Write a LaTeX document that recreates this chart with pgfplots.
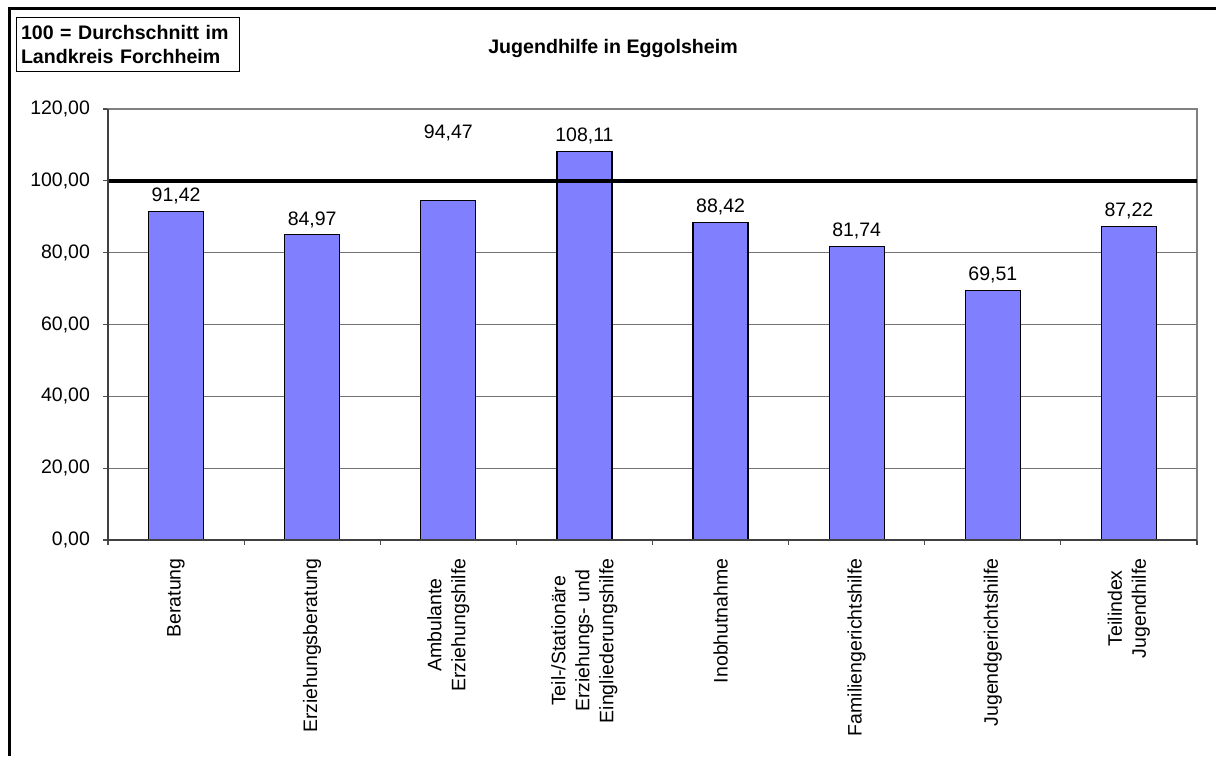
\documentclass[border=0pt]{standalone}
\usepackage{pgfplots}
\pgfplotsset{compat=1.18}
\usepackage{fontspec}
\setmainfont{Liberation Sans}
\definecolor{barblue}{HTML}{8080FF}
\begin{document}
\begin{tikzpicture}[x=1pt,y=1pt]
\useasboundingbox (0,0) rectangle (608,378);
\fill[white] (0,0) rectangle (608,378);
% outer frame (left and top only visible)
\draw[line width=1.5pt] (4.5,0) -- (4.5,373.5) -- (608,373.5);
% box
\node[draw=black, line width=0.5pt, anchor=north west, minimum width=111.5pt, minimum height=27pt,
      align=left, inner sep=2pt, text width=107pt, font=\fontsize{9.8}{11.6}\selectfont\bfseries]
  at (8,369.5) {100 = Durchschnitt im\\Landkreis Forchheim};
% title
\node[font=\fontsize{9.8}{11.6}\selectfont\bfseries] at (306.5,354) {Jugendhilfe in Eggolsheim};
\begin{axis}[
  at={(54pt,108pt)}, anchor=south west,
  scale only axis, width=544.5pt, height=215.5pt,
  xmin=-0.5, xmax=7.5, ymin=0, ymax=120,
  ytick={0,20,...,120},
  xtick={-0.5,0.5,...,7.5}, xticklabels={},
  extra x ticks={0,1,2,3,4,5,6,7},
  extra x tick labels={Beratung, Erziehungsberatung, {Ambulante\\Erziehungshilfe}, {Teil-/Stationäre\\Erziehungs- und\\Eingliederungshilfe}, Inobhutnahme, Familiengerichtshilfe, Jugendgerichtshilfe, {Teilindex\\Jugendhilfe}},
  extra x tick style={major tick length=0pt, grid=none},
  tick align=outside, major tick length=2.5pt, tick pos=left,
  xticklabel style={rotate=90, anchor=east, align=center, font=\fontsize{9.75}{12}\selectfont, inner sep=0pt, xshift=-9pt},
  yticklabel style={font=\fontsize{9.75}{12}\selectfont, xshift=-3pt},
  /pgf/number format/assume math mode=true,
  y tick label style={/pgf/number format/.cd, fixed, fixed zerofill, precision=2, use comma, 1000 sep={}},
  ymajorgrids, grid style={draw=black!55, line width=0.5pt},
  axis line style={draw=black!50, line width=0.6pt},
  tick style={draw=black!70, line width=0.6pt},
  clip=false,
]
\addplot[ybar, bar width=27.5pt, draw=black, line width=0.6pt, fill=barblue,
  nodes near coords,
  visualization depends on={\thisrow{dy} \as \dy},
  every node near coord/.append style={yshift=\dy pt},
  nodes near coords style={text=black, font=\fontsize{9.75}{12}\selectfont, /pgf/number format/.cd, fixed, fixed zerofill, precision=2, use comma, 1000 sep={}, assume math mode=true},
] table[x=x, y=y] {
x y dy
0 91.42 0
1 84.97 0
2 94.47 26
3 108.11 0
4 88.42 0
5 81.74 0
6 69.51 0
7 87.22 0
};
\addplot[sharp plot, black, line width=2pt, forget plot] coordinates {(-0.5,100) (7.5,100)};
\addplot[sharp plot, black!75, line width=0.6pt, forget plot] coordinates {(-0.5,120) (-0.5,0) (7.5,0)};
\end{axis}
\end{tikzpicture}
\end{document}
